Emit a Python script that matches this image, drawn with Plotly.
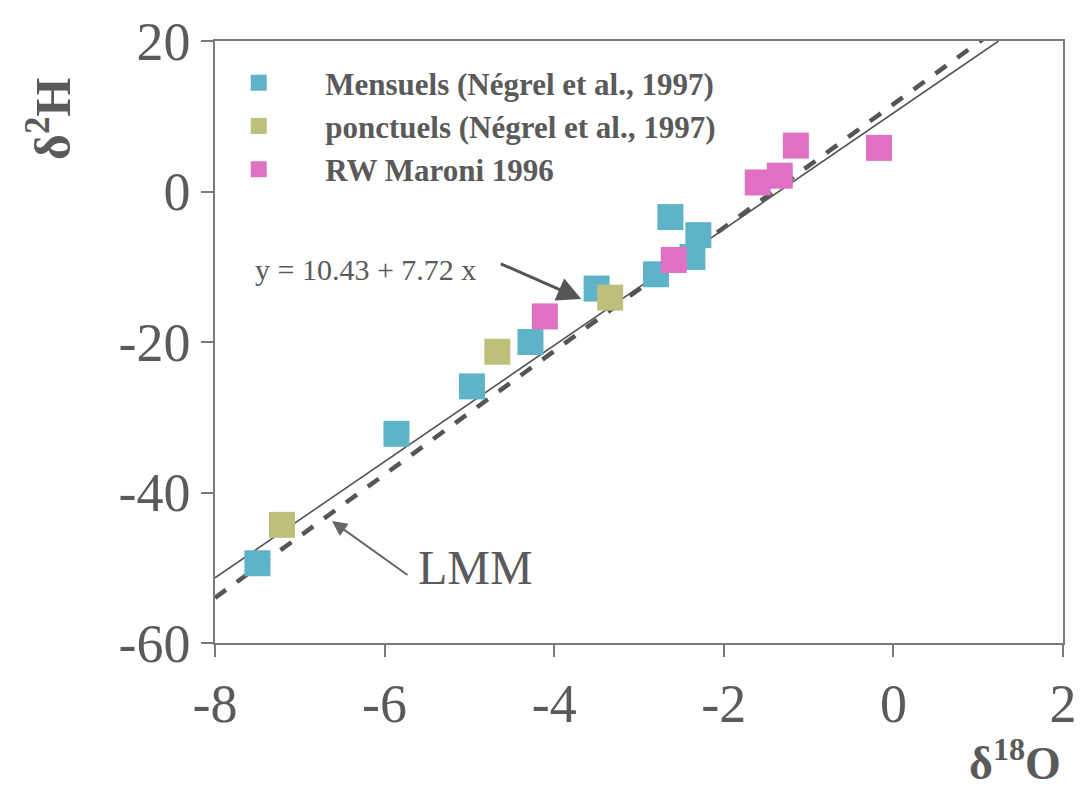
import plotly.graph_objects as go

# Data (delta18O, delta2H)
mens_x = [-7.50, -5.86, -4.97, -4.28, -3.50, -2.80, -2.63, -2.37, -2.30]
mens_y = [-49.4, -32.2, -25.9, -20.0, -12.9, -11.0, -3.4, -8.7, -5.8]

ponc_x = [-7.21, -4.67, -3.34]
ponc_y = [-44.3, -21.3, -14.1]

maroni_x = [-4.11, -2.59, -1.60, -1.34, -1.15, -0.17]
maroni_y = [-16.6, -9.1, 1.2, 2.1, 6.1, 5.8]

# regression line y = 10.43 + 7.72 x
reg_a, reg_b = 10.43, 7.72
reg_x = [-8.0, 1.24]
# local meteoric line (LMM), estimated
lmm_a, lmm_b = 11.6, 8.2
lmm_x = [-8.0, 1.26]

x_ticks = [-8, -6, -4, -2, 0, 2]
y_ticks = [-60, -40, -20, 0, 20]

FONT = "Liberation Serif"
GREY = "#5a5a5a"
AX = "#7a7a7a"
PAD = "\u2003\u2002"

fig = go.Figure()

fig.add_trace(go.Scatter(
    x=reg_x, y=[reg_a + reg_b * v for v in reg_x], mode="lines",
    line=dict(color="#555555", width=1.6), showlegend=False, hoverinfo="skip"))
fig.add_trace(go.Scatter(
    x=lmm_x, y=[lmm_a + lmm_b * v for v in lmm_x], mode="lines",
    line=dict(color="#555555", width=4.5, dash="dash"), showlegend=False, hoverinfo="skip"))

fig.add_trace(go.Scatter(
    x=mens_x, y=mens_y, mode="markers", name=PAD + "Mensuels (Négrel et al., 1997)",
    legendgroup="a",
    marker=dict(symbol="square", size=26, color="#5fb3c9")))
fig.add_trace(go.Scatter(
    x=ponc_x, y=ponc_y, mode="markers", name=PAD + "ponctuels (Négrel et al., 1997)",
    legendgroup="b",
    marker=dict(symbol="square", size=26, color="#bcc07c")))
fig.add_trace(go.Scatter(
    x=maroni_x, y=maroni_y, mode="markers", name=PAD + "RW Maroni 1996",
    legendgroup="c",
    marker=dict(symbol="square", size=26, color="#e070c2")))

axis_common = dict(
    showgrid=False, zeroline=False, showline=True, linecolor=AX, linewidth=1.5,
    mirror=True, ticks="outside", ticklen=12, tickcolor=AX, tickwidth=1.5,
    tickfont=dict(family=FONT, size=54, color=GREY),
)

fig.update_xaxes(range=[-8, 2], tickvals=x_ticks, ticktext=[str(v) for v in x_ticks],
                 **axis_common)
fig.update_yaxes(range=[-60, 20], tickvals=y_ticks, ticktext=[str(v) for v in y_ticks],
                 **axis_common)

fig.update_layout(
    width=1089, height=798,
    margin=dict(l=215, r=14, t=38, b=155),
    plot_bgcolor="white", paper_bgcolor="white",
    legend=dict(
        x=0.028, y=0.975, xanchor="left", yanchor="top",
        font=dict(family=FONT, size=31, color=GREY, weight="bold"),
        bgcolor="rgba(0,0,0,0)", tracegroupgap=0, traceorder="grouped",
    ),
    annotations=[
        dict(xref="paper", yref="paper", x=-0.195, y=0.87, xanchor="center",
             yanchor="middle", text="δ<sup>2</sup>H",
             textangle=-90, showarrow=False,
             font=dict(family=FONT, size=50, color=GREY, weight="bold")),
        dict(xref="paper", yref="paper", x=1.0, y=-0.246, xanchor="right", yanchor="bottom",
             text="δ<sup>18</sup>O", showarrow=False,
             font=dict(family=FONT, size=46, color=GREY, weight="bold")),
        dict(x=-6.22, y=-10.4, text="y = 10.43 + 7.72 x", showarrow=False,
             font=dict(family=FONT, size=30, color=GREY)),
        dict(x=-3.68, y=-14.3, ax=-82, ay=-36, text="", showarrow=True,
             arrowhead=2, arrowsize=1.6, arrowwidth=3, arrowcolor="#555555"),
        dict(x=-4.93, y=-50.0, text="LMM", showarrow=False,
             font=dict(family=FONT, size=48, color=GREY)),
        dict(x=-6.62, y=-43.8, ax=77, ay=55, text="", showarrow=True,
             arrowhead=2, arrowsize=1.5, arrowwidth=2, arrowcolor="#666666"),
    ],
)

fig.write_html("out.html")
